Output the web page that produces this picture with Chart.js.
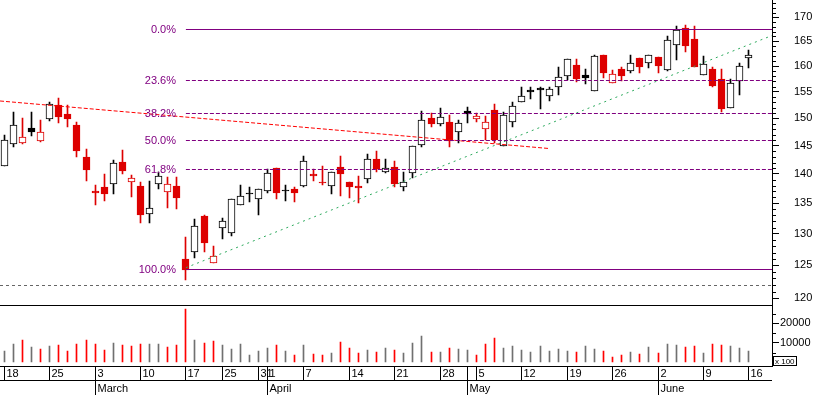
<!DOCTYPE html>
<html>
<head>
<meta charset="utf-8">
<title>Daily candles with Fibonacci retracement</title>
<script src="https://cdn.jsdelivr.net/npm/chart.js@4.4.1/dist/chart.umd.min.js"></script>
<style>
  html, body { margin: 0; padding: 0; background: #fff; }
  canvas { display: block; }
</style>
</head>
<body>
<canvas id="chart" width="817" height="395"></canvas>
<script>
// ---- data (prices, volume in hundreds) ----
const dates = [
  '2008-02-18','2008-02-19','2008-02-20','2008-02-21','2008-02-22',
  '2008-02-25','2008-02-26','2008-02-27','2008-02-28','2008-02-29',
  '2008-03-03','2008-03-04','2008-03-05','2008-03-06','2008-03-07',
  '2008-03-10','2008-03-11','2008-03-12','2008-03-13','2008-03-14',
  '2008-03-17','2008-03-18','2008-03-19','2008-03-20',
  '2008-03-25','2008-03-26','2008-03-27','2008-03-28',
  '2008-03-31','2008-04-01','2008-04-02','2008-04-03','2008-04-04',
  '2008-04-07','2008-04-08','2008-04-09','2008-04-10','2008-04-11',
  '2008-04-14','2008-04-15','2008-04-16','2008-04-17','2008-04-18',
  '2008-04-21','2008-04-22','2008-04-23','2008-04-24','2008-04-25',
  '2008-04-28','2008-04-29','2008-04-30','2008-05-02',
  '2008-05-05','2008-05-06','2008-05-07','2008-05-08','2008-05-09',
  '2008-05-12','2008-05-13','2008-05-14','2008-05-15','2008-05-16',
  '2008-05-19','2008-05-20','2008-05-21','2008-05-22','2008-05-23',
  '2008-05-26','2008-05-27','2008-05-28','2008-05-29','2008-05-30',
  '2008-06-02','2008-06-03','2008-06-04','2008-06-05','2008-06-06',
  '2008-06-09','2008-06-10','2008-06-11','2008-06-12','2008-06-13',
  '2008-06-16'
];

const opens = [
  141.4, 145.3, 145.5, 148.2, 145.9, 149.9, 152.5, 150.8, 148.8, 143.0,
  137.1, 137.8, 138.2, 142.1, 138.6, 138.0, 133.2, 138.2, 136.9, 137.9,
  126.0, 127.1, 132.9, 125.3, 131.0, 130.2, 134.7, 136.6, 135.7, 137.0,
  141.0, 137.2, 137.4, 138.0, 140.0, 138.6, 138.0, 141.2, 138.6, 137.9,
  139.1, 142.7, 140.4, 141.2, 137.8, 140.1, 145.1, 150.0, 148.9, 149.4,
  147.4, 151.3, 149.9, 148.1, 151.5, 144.9, 149.4, 153.0, 155.3, 155.7,
  154.2, 155.9, 158.0, 160.3, 158.3, 155.1, 162.2, 156.8, 159.5, 159.1,
  161.6, 160.6, 161.8, 159.3, 164.2, 167.8, 165.5, 158.2, 159.5, 157.5,
  151.9, 157.0, 161.7
];
const highs = [
  146.9, 151.1, 150.1, 151.1, 149.7, 153.0, 153.8, 152.5, 149.3, 144.4,
  138.1, 140.0, 142.4, 144.2, 139.9, 138.6, 138.8, 140.4, 139.4, 139.4,
  129.5, 132.4, 133.1, 128.0, 132.5, 135.7, 138.1, 137.7, 137.5, 140.8,
  141.0, 138.1, 137.7, 143.2, 140.9, 141.4, 140.3, 143.2, 138.6, 139.7,
  143.5, 144.0, 142.7, 142.3, 140.3, 144.9, 151.4, 150.9, 151.9, 150.6,
  149.6, 152.1, 150.9, 150.4, 152.7, 151.1, 153.0, 155.9, 156.0, 156.0,
  156.0, 159.9, 161.4, 161.4, 159.5, 162.2, 162.2, 159.3, 159.9, 162.2,
  161.6, 162.2, 161.8, 166.1, 168.2, 168.4, 168.2, 162.0, 159.8, 159.5,
  157.5, 160.6, 163.3
];
const lows = [
  141.4, 144.8, 145.3, 146.8, 145.7, 149.5, 149.2, 148.3, 143.0, 138.7,
  134.7, 135.4, 136.5, 140.0, 136.1, 131.8, 131.8, 137.4, 134.3, 134.0,
  122.8, 126.2, 127.1, 125.3, 129.2, 129.6, 134.7, 135.3, 133.1, 136.7,
  135.8, 135.4, 135.3, 137.7, 138.8, 138.1, 136.5, 136.3, 135.9, 135.0,
  138.5, 140.4, 140.2, 137.7, 137.1, 139.3, 144.8, 148.3, 148.5, 144.8,
  145.5, 149.2, 149.4, 146.0, 145.4, 144.9, 148.3, 153.0, 153.6, 151.7,
  153.3, 154.4, 157.3, 156.9, 156.5, 155.1, 157.6, 156.8, 157.0, 158.7,
  158.7, 159.7, 158.7, 159.0, 161.2, 162.9, 159.8, 158.2, 155.9, 151.1,
  151.9, 154.3, 159.7
];
const closes = [
  146.0, 148.8, 146.5, 147.5, 147.4, 152.7, 150.3, 149.9, 144.1, 140.7,
  136.8, 136.6, 142.0, 140.6, 139.3, 133.1, 134.3, 139.7, 138.2, 135.9,
  124.3, 131.2, 128.6, 126.4, 132.0, 135.7, 136.2, 136.5, 137.5, 140.1,
  136.7, 137.0, 136.8, 142.2, 139.7, 138.5, 140.3, 140.0, 137.8, 137.6,
  142.6, 140.9, 141.0, 138.2, 138.6, 144.9, 149.6, 148.9, 150.2, 145.9,
  149.1, 150.8, 150.4, 149.4, 146.0, 150.7, 152.3, 154.2, 155.0, 155.3,
  155.5, 157.8, 161.4, 157.5, 157.6, 162.0, 158.7, 158.4, 158.1, 160.6,
  159.9, 162.2, 160.1, 165.2, 167.3, 164.1, 159.9, 160.4, 156.2, 151.8,
  156.7, 160.0, 162.2
];
const volumes = [
  5640, 9380, 11280, 7690, 6670, 8200, 8720, 5640, 9380, 11280,
  9380, 6150, 9900, 8870, 8360, 9380, 9380, 9380, 7690, 8870,
  27180, 11280, 9900, 10920, 8870, 6670, 9380, 3590, 5640, 7180,
  8720, 5640, 3740, 8870, 4260, 3740, 4770, 10260, 7180, 4770,
  6310, 5280, 7330, 6310, 4770, 9900, 13490, 5280, 5280, 7330,
  6820, 6150, 3740, 9380, 12460, 7330, 8360, 6310, 5280, 8360,
  5790, 6820, 5790, 5280, 8360, 6820, 5790, 2720, 3740, 5280,
  4260, 7850, 4770, 9380, 8870, 7850, 8360, 4770, 9380, 8870,
  8360, 7330, 5790
];

const priceTicks = [120, 125, 130, 135, 140, 145, 150, 155, 160, 165, 170];
const volumeTicks = [10000, 20000];
const monthNames = ['January', 'February', 'March', 'April', 'May', 'June',
  'July', 'August', 'September', 'October', 'November', 'December'];

// Fibonacci retracement between the 17 March close and the early June close
const fibPercents = [0, 23.6, 38.2, 50, 61.8, 100];
const fibHigh = 167.4;
const fibLow = 124.3;
const fibStart = 20;

// hand drawn lines: [index, price] end points
const redTrend = [[-0.47, 153.25], [59.9, 144.5]];
const greenTrend = [[20, 124.65], [84.55, 166.2]];
const greyLevel = 122.0;

// ---- colours ----
const RED = '#dd0000';
const BLACK = '#000000';
const PURPLE = '#800080';
const FONT = "'Liberation Sans', Arial, sans-serif";

const xMin = -0.474;
const xMax = 84.55;

// candle colouring: red when the close is below the previous close,
// filled when the close is below the open
const isDown = closes.map((c, i) => i > 0 && c < closes[i - 1]);
const lineColor = isDown.map(d => d ? RED : BLACK);
const bodyFill = closes.map((c, i) => c < opens[i] ? lineColor[i] : '#ffffff');
const volColor = isDown.map(d => d ? '#ff0000' : '#707070');

const snap = v => Math.floor(v) + 0.5;

function lineSet(points, color, dash, flat) {
  return {
    type: 'line',
    data: points.map(p => ({ x: p[0], y: p[1] })),
    borderColor: color,
    borderWidth: 1,
    borderDash: dash,
    pointRadius: 0,
    tension: 0,
    yAxisID: 'y',
    order: 0,
    flat: !!flat
  };
}

const fibSets = fibPercents.map(p => {
  const level = fibHigh - p / 100 * (fibHigh - fibLow);
  const solid = p === 0 || p === 100;
  return lineSet([[fibStart, level], [xMax, level]], PURPLE, solid ? [] : [4, 2], true);
});

// put bars and flat lines on whole pixels so they stay sharp
const pixelSnap = {
  id: 'pixelSnap',
  afterDatasetsUpdate(chart) {
    chart.data.datasets.forEach((ds, i) => {
      const meta = chart.getDatasetMeta(i);
      if (meta.type === 'bar') {
        meta.data.forEach(bar => {
          bar.x = snap(bar.x);
          bar.y = Math.round(bar.y);
          bar.base = Math.round(bar.base);
          if (bar.y === bar.base) bar.y -= 1;
        });
      } else if (ds.flat) {
        meta.data.forEach(pt => { pt.y = snap(pt.y); });
      }
    });
  }
};

// minor ticks, month/day rows and other decorations
const decorations = {
  id: 'decorations',
  afterDraw(chart) {
    const { ctx, chartArea, scales } = chart;
    const x = scales.x, y = scales.y, yv = scales.yv;
    const right = chartArea.right;
    ctx.save();
    ctx.strokeStyle = '#000';
    ctx.lineWidth = 1;

    // minor ticks on the price axis
    for (let v = 120; v <= 173; v++) {
      if (v % 5 === 0) continue;
      const py = Math.round(y.getPixelForValue(v)) + 0.5;
      ctx.beginPath(); ctx.moveTo(right, py); ctx.lineTo(right + 4, py); ctx.stroke();
    }
    // minor ticks on the volume axis
    [5000, 15000, 25000].forEach(v => {
      const py = Math.round(yv.getPixelForValue(v)) + 0.5;
      ctx.beginPath(); ctx.moveTo(right, py); ctx.lineTo(right + 4, py); ctx.stroke();
    });

    // panel separators
    const sep = [Math.round(yv.top) + 0.5, Math.round(chartArea.bottom) + 0.5, Math.round(chartArea.bottom) + 14.5];
    sep.forEach(py => {
      ctx.beginPath(); ctx.moveTo(0, py); ctx.lineTo(right, py); ctx.stroke();
    });

    // day and month rows
    ctx.font = '11px ' + FONT;
    ctx.fillStyle = '#000';
    ctx.textBaseline = 'middle';
    ctx.textAlign = 'left';
    const dayRowTop = sep[1], dayRowBottom = sep[2];
    const parsed = dates.map(d => new Date(d + 'T00:00:00Z'));
    const weekStart = parsed.map((d, i) => i === 0 || d.getUTCDay() < parsed[i - 1].getUTCDay());
    const monthStart = parsed.map((d, i) => i > 0 && d.getUTCMonth() !== parsed[i - 1].getUTCMonth());
    parsed.forEach((d, i) => {
      const px = snap(x.getPixelForValue(i));
      let showDay = weekStart[i];
      if (monthStart[i] && !weekStart[i]) {
        const next = weekStart.indexOf(true, i + 1);
        showDay = next < 0 || next - i > 2;
      }
      if (monthStart[i]) {
        ctx.beginPath(); ctx.moveTo(px, dayRowTop); ctx.lineTo(px, chart.height); ctx.stroke();
        ctx.fillText(monthNames[d.getUTCMonth()], px + 2, dayRowBottom + 8);
      }
      if (showDay) {
        ctx.beginPath(); ctx.moveTo(px, dayRowTop); ctx.lineTo(px, dayRowBottom); ctx.stroke();
        ctx.fillText(String(d.getUTCDate()), px + 2, dayRowTop + 7.5);
      }
    });

    // fibonacci labels
    ctx.fillStyle = PURPLE;
    ctx.textAlign = 'right';
    fibPercents.forEach(p => {
      const level = fibHigh - p / 100 * (fibHigh - fibLow);
      ctx.fillText(p.toFixed(1) + '%', 176, y.getPixelForValue(level) + 0.5);
    });

    // volume multiplier box
    const by = Math.round(chartArea.bottom) - 9.5;
    ctx.strokeRect(right + 1.5, by, 23, 9);
    ctx.fillStyle = '#000';
    ctx.textAlign = 'left';
    ctx.font = '8px ' + FONT;
    ctx.fillText('x 100', right + 3, by + 5);
    ctx.restore();
  }
};

const axisFont = { family: FONT, size: 11 };

// keep the axes from reserving room for their end labels
function fixAxis(s) {
  s.width = 45;
  s.paddingTop = 0;
  s.paddingBottom = 0;
}

new Chart(document.getElementById('chart'), {
  type: 'bar',
  data: {
    datasets: [
      ...fibSets,
      lineSet([[xMin, greyLevel], [xMax, greyLevel]], '#666666', [3, 3], true),
      lineSet(redTrend, '#ff0000', [4, 2]),
      lineSet(greenTrend, '#2eaa5e', [2, 4]),
      {
        label: 'body',
        data: opens.map((o, i) => ({ x: i, y: [o, closes[i]] })),
        backgroundColor: bodyFill,
        borderColor: lineColor,
        borderWidth: 1,
        borderSkipped: false,
        maxBarThickness: 7,
        minBarLength: 1,
        grouped: false,
        barPercentage: 1,
        categoryPercentage: 1,
        yAxisID: 'y',
        order: 1
      },
      {
        label: 'wick',
        data: lows.map((l, i) => ({ x: i, y: [l, highs[i]] })),
        backgroundColor: lineColor,
        borderWidth: 0,
        maxBarThickness: 1,
        grouped: false,
        barPercentage: 1,
        categoryPercentage: 1,
        yAxisID: 'y',
        order: 2
      },
      {
        label: 'volume',
        data: volumes.map((v, i) => ({ x: i, y: v })),
        backgroundColor: volColor,
        borderWidth: 0,
        maxBarThickness: 1,
        grouped: false,
        barPercentage: 1,
        categoryPercentage: 1,
        yAxisID: 'yv',
        order: 2
      }
    ]
  },
  options: {
    responsive: false,
    animation: false,
    devicePixelRatio: 1,
    layout: { padding: { top: 0, left: 0, right: 0, bottom: 29 } },
    plugins: { legend: { display: false }, tooltip: { enabled: false } },
    scales: {
      x: {
        type: 'linear',
        display: false,
        offset: false,
        min: xMin,
        max: xMax,
        grid: { offset: false }
      },
      y: {
        type: 'logarithmic',
        position: 'right',
        stack: 'right',
        stackWeight: 304.5,
        min: 119.09,
        max: 173.68,
        bounds: 'data',
        afterBuildTicks: s => { s.ticks = priceTicks.map(v => ({ value: v })); },
        afterFit: fixAxis,
        ticks: { callback: v => String(v), color: '#000', font: axisFont, padding: 15, autoSkip: false },
        grid: { drawOnChartArea: false, tickLength: 7, tickColor: '#000' },
        border: { display: true, color: '#000' }
      },
      yv: {
        type: 'linear',
        position: 'right',
        stack: 'right',
        stackWeight: 61.5,
        min: -1900,
        max: 29640,
        afterBuildTicks: s => { s.ticks = volumeTicks.map(v => ({ value: v })); },
        afterFit: fixAxis,
        ticks: { callback: v => String(v), color: '#000', font: axisFont, padding: 1, autoSkip: false },
        grid: { drawOnChartArea: false, tickLength: 7, tickColor: '#000' },
        border: { display: true, color: '#000' }
      }
    }
  },
  plugins: [pixelSnap, decorations]
});
</script>
</body>
</html>
